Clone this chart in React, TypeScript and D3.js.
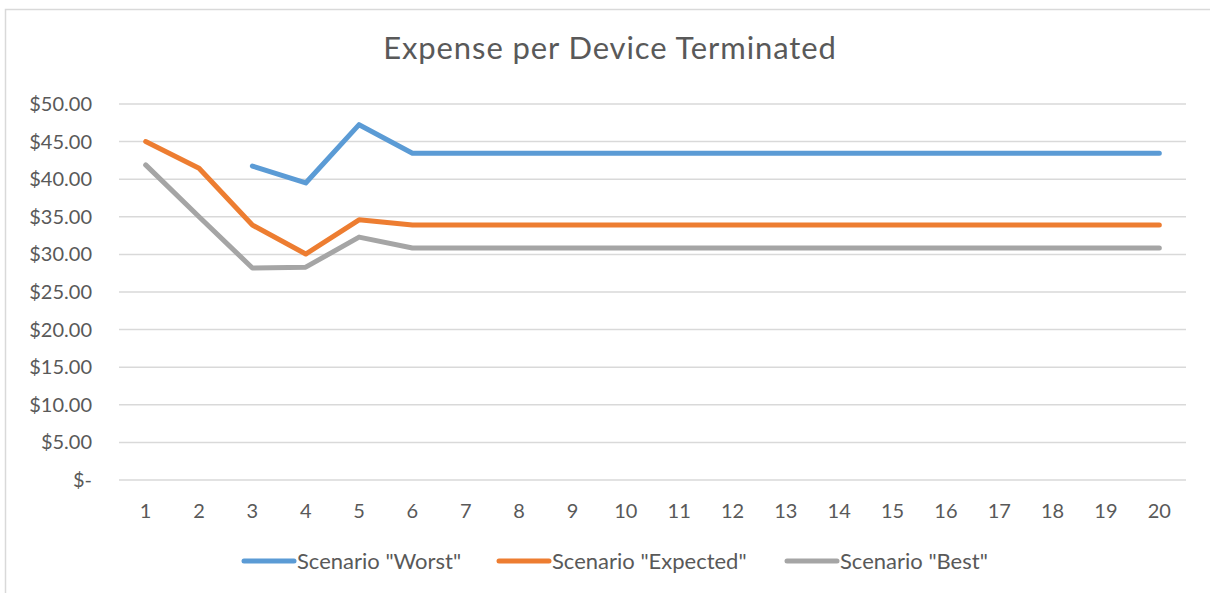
import React from "react";
import * as d3 from "d3";

// periods 1..20
const periods = d3.range(1, 21).map(String);

// expense per device terminated, $ (null = no value)
const worst = [null, null, 41.75, 39.5, 47.25, 43.45, 43.45, 43.45, 43.45, 43.45, 43.45, 43.45, 43.45, 43.45, 43.45, 43.45, 43.45, 43.45, 43.45, 43.45];
const expected = [45.0, 41.45, 33.9, 30.05, 34.6, 33.9, 33.9, 33.9, 33.9, 33.9, 33.9, 33.9, 33.9, 33.9, 33.9, 33.9, 33.9, 33.9, 33.9, 33.9];
const best = [41.9, 35.0, 28.2, 28.3, 32.3, 30.85, 30.85, 30.85, 30.85, 30.85, 30.85, 30.85, 30.85, 30.85, 30.85, 30.85, 30.85, 30.85, 30.85, 30.85];

const seriesNames = ['Scenario "Worst"', 'Scenario "Expected"', 'Scenario "Best"'];
const yTicks = [0, 5, 10, 15, 20, 25, 30, 35, 40, 45, 50];

const colors = ["#5B9BD5", "#ED7D31", "#A5A5A5"];
const font = "Lato, 'Open Sans', sans-serif";
const textColor = "#595959";

export default function App() {
  const W = 1210, H = 593;
  const left = 119, right = 1186, top = 104, bottom = 480;

  const x = d3.scalePoint<string>().domain(periods).range([left, right]).padding(0.5);
  const y = d3.scaleLinear().domain([0, 50]).range([bottom, top]);

  const line = d3
    .line<number | null>()
    .defined((d) => d != null)
    .x((d, i) => x(periods[i]) as number)
    .y((d) => y(d as number));

  const series = [worst, expected, best];
  const fmt = (v: number) => (v === 0 ? "$-" : "$" + d3.format(".2f")(v));

  // legend layout
  const legendX = [242, 497, 785];
  const legendY = 561;

  return (
    <svg width={W} height={H} style={{ position: "absolute", left: 0, top: 0, background: "#fff" }}>
      <rect x={5.5} y={9.5} width={1300} height={700} fill="#fff" stroke="#D9D9D9" strokeWidth={1.5} />

      <text x={610} y={59} textAnchor="middle" fontFamily={font} fontSize={31} letterSpacing={0.9} fill={textColor}>
        Expense per Device Terminated
      </text>

      {yTicks.map((t) => (
        <g key={t}>
          <line x1={left} x2={right} y1={y(t)} y2={y(t)} stroke="#D9D9D9" strokeWidth={1.5} />
          <text x={92} y={y(t)} dy="0.35em" textAnchor="end" fontFamily={font} fontSize={20} fill={textColor}>
            {fmt(t)}
          </text>
        </g>
      ))}

      {periods.map((p) => (
        <text key={p} x={x(p)} y={511} dy="0.35em" textAnchor="middle" fontFamily={font} fontSize={20} fill={textColor}>
          {p}
        </text>
      ))}

      {series.map((s, i) => (
        <path
          key={i}
          d={line(s) || ""}
          fill="none"
          stroke={colors[i]}
          strokeWidth={5}
          strokeLinejoin="round"
          strokeLinecap="round"
        />
      ))}

      {seriesNames.map((n, i) => (
        <g key={n}>
          <line
            x1={legendX[i] + 2}
            x2={legendX[i] + 52}
            y1={legendY}
            y2={legendY}
            stroke={colors[i]}
            strokeWidth={5}
            strokeLinecap="round"
          />
          <text x={legendX[i] + 55} y={legendY} dy="0.35em" fontFamily={font} fontSize={22} fill={textColor}>
            {n}
          </text>
        </g>
      ))}
    </svg>
  );
}
